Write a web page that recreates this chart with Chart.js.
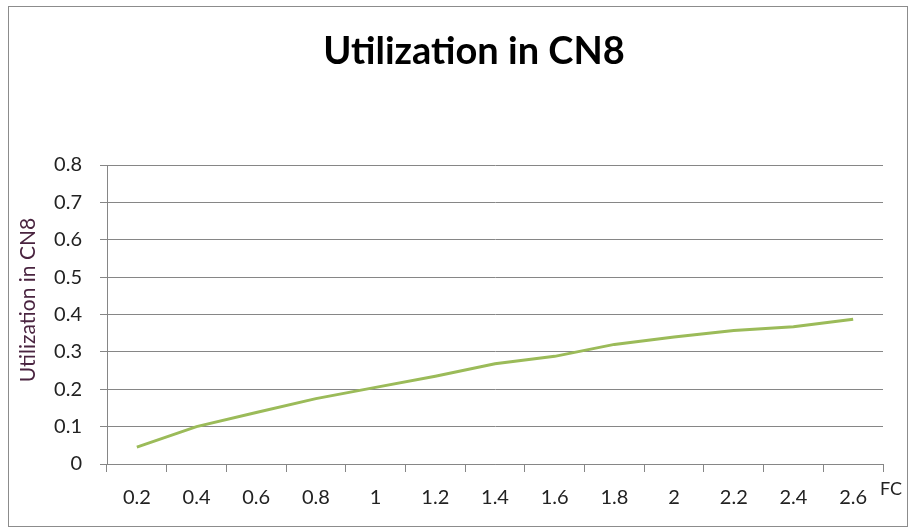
<!DOCTYPE html>
<html>
<head>
<meta charset="utf-8">
<script src="https://cdn.jsdelivr.net/npm/chart.js@4.4.0/dist/chart.umd.min.js"></script>
<style>
  html, body { margin: 0; padding: 0; background: #fff; }
  #wrap { position: relative; width: 911px; height: 529px; }
</style>
</head>
<body>
<div id="wrap"><canvas id="chart" width="911" height="529"></canvas></div>
<script>
// ---------- DATA ----------
const fcLabels = ["0.2", "0.4", "0.6", "0.8", "1", "1.2", "1.4", "1.6", "1.8", "2", "2.2", "2.4", "2.6"];
const utilization = [0.045, 0.1, 0.138, 0.175, 0.205, 0.235, 0.268, 0.288, 0.32, 0.34, 0.357, 0.367, 0.387];
const yTicks = [0, 0.1, 0.2, 0.3, 0.4, 0.5, 0.6, 0.7, 0.8];
const chartTitle = "Utilization in CN8";
const yTitle = "Utilization in CN8";
const xTitle = "FC";

const FONT = "Lato, 'Open Sans', sans-serif";

// frame, title, axis titles (Excel places them off-centre, so draw by hand)
const framePlugin = {
  id: "frame",
  beforeDraw(chart) {
    const ctx = chart.ctx;
    ctx.save();
    ctx.fillStyle = "#fff";
    ctx.fillRect(0, 0, chart.width, chart.height);
    ctx.strokeStyle = "#8c8c8c";
    ctx.lineWidth = 1;
    ctx.strokeRect(8.5, 6.5, 899, 520);
    ctx.restore();
  },
  afterDraw(chart) {
    const ctx = chart.ctx;
    const area = chart.chartArea;
    ctx.save();

    // chart title
    ctx.fillStyle = "#000";
    ctx.font = "bold 38px " + FONT;
    ctx.textAlign = "center";
    ctx.textBaseline = "middle";
    ctx.fillText(chartTitle, 474, 52);

    // y axis title
    ctx.save();
    ctx.translate(28, 300);
    ctx.rotate(-Math.PI / 2);
    ctx.fillStyle = "#4a2440";
    ctx.font = "21px " + FONT;
    ctx.fillText(yTitle, 0, 0);
    ctx.restore();

    // x axis title at the right end
    ctx.fillStyle = "#222";
    ctx.font = "18px " + FONT;
    ctx.textAlign = "left";
    ctx.fillText(xTitle, area.right - 3, area.bottom + 25);
    ctx.restore();
  }
};

const ctx = document.getElementById("chart").getContext("2d");

const chart = new Chart(ctx, {
  type: "line",
  data: {
    labels: fcLabels,
    datasets: [
      {
        label: yTitle,
        data: utilization,
        borderColor: "#9bbb59",
        borderWidth: 3,
        pointRadius: 0,
        fill: false,
        tension: 0,
      },
    ],
  },
  options: {
    responsive: false,
    animation: false,
    layout: { padding: { top: 165, right: 28, bottom: 0, left: 0 } },
    plugins: {
      legend: { display: false },
      tooltip: { enabled: false },
      title: { display: false },
    },
    scales: {
      x: {
        type: "category",
        offset: true,
        grid: {
          offset: true,
          drawOnChartArea: false,
          drawTicks: true,
          tickLength: 8,
          color: "#868686",
        },
        border: { color: "#868686", width: 1 },
        ticks: {
          color: "#222",
          font: { family: FONT, size: 20 },
          padding: 14,
          maxRotation: 0,
          autoSkip: false,
        },
        afterFit(scale) { scale.height = 65; },
      },
      y: {
        min: 0,
        max: 0.8,
        afterBuildTicks(scale) {
          scale.ticks = yTicks.map(v => ({ value: v }));
        },
        grid: {
          color: "#868686",
          tickLength: 7,
          drawTicks: true,
        },
        border: { color: "#868686", width: 1 },
        ticks: {
          color: "#222",
          font: { family: FONT, size: 20 },
          padding: 18,
          callback: v => String(Math.round(v * 10) / 10),
        },
        afterFit(scale) { scale.width = 107; },
      },
    },
  },
  plugins: [framePlugin],
});
</script>
</body>
</html>
